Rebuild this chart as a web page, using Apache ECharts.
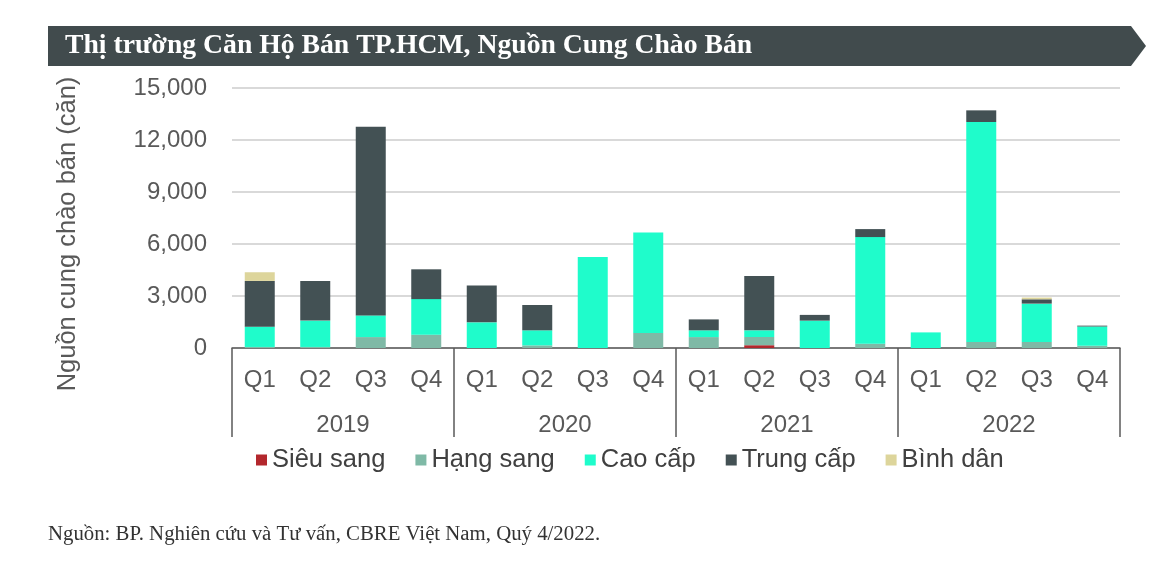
<!DOCTYPE html>
<html>
<head>
<meta charset="utf-8">
<script src="https://cdn.jsdelivr.net/npm/echarts@6/dist/echarts.min.js"></script>
<style>
html,body{margin:0;padding:0;background:#fff;}
#c{width:1170px;height:577px;}
</style>
</head>
<body>
<div id="c"></div>
<script>
const quarters = ['Q1','Q2','Q3','Q4','Q1','Q2','Q3','Q4','Q1','Q2','Q3','Q4','Q1','Q2','Q3','Q4'];
const years = ['2019','2020','2021','2022'];
const yTicks = [0, 3000, 6000, 9000, 12000, 15000];
const seriesNames = ['Siêu sang','Hạng sang','Cao cấp','Trung cấp','Bình dân'];
const sieuSang = [0,0,0,0, 0,0,0,0, 0,160,0,0, 0,0,0,0];
const hangSang = [60,60,630,770, 0,150,0,870, 630,475,0,250, 0,350,350,130];
const caoCap   = [1170,1520,1250,2050, 1480,870,5250,5790, 390,385,1580,6150, 900,12690,2210,1110];
const trungCap = [2640,2290,10890,1720, 2120,1460,0,0, 630,3135,330,460, 0,670,250,50];
const binhDan  = [500,0,0,0, 0,0,0,0, 0,0,0,0, 0,0,100,0];
const titleText = 'Thị trường Căn Hộ Bán TP.HCM, Nguồn Cung Chào Bán';
const yName = 'Nguồn cung chào bán (căn)';
const sourceText = 'Nguồn: BP. Nghiên cứu và Tư vấn, CBRE Việt Nam, Quý 4/2022.';

const colors = ['#b3272d','#7fb9a6','#1ffccb','#435154','#ddd59b'];
const values = [sieuSang, hangSang, caoCap, trungCap, binhDan];
const font = 'Liberation Sans, Arial, sans-serif';
const labelColor = '#595959';

const chart = echarts.init(document.getElementById('c'), null, {renderer:'canvas'});
chart.setOption({
  animation:false,
  backgroundColor:'#fff',
  grid:{left:232, right:50, top:88, bottom:229, containLabel:false},
  legend:{
    data:seriesNames,
    left:251, top:442,
    icon:'rect', itemWidth:11, itemHeight:11, itemGap:30,
    textStyle:{fontFamily:font, fontSize:25.5, color:'#404040', padding:[0,0,0,0]}
  },
  xAxis:[
    {
      type:'category', data:quarters, position:'bottom',
      axisLine:{show:true, lineStyle:{color:'#595959', width:1.5}},
      axisTick:{show:false},
      axisLabel:{interval:0, margin:20, fontFamily:font, fontSize:24, color:labelColor}
    },
    {
      type:'category', data:years, position:'bottom',
      axisLine:{show:false},
      axisTick:{show:true, interval:0, length:89, lineStyle:{color:'#595959', width:1.5}},
      axisLabel:{interval:0, margin:65, fontFamily:font, fontSize:24, color:labelColor}
    }
  ],
  yAxis:{
    type:'value', min:yTicks[0], max:yTicks[yTicks.length-1], interval:3000,
    axisLine:{show:false}, axisTick:{show:false},
    splitLine:{lineStyle:{color:'#d9d9d9', width:2}},
    axisLabel:{margin:25, fontFamily:font, fontSize:24, color:labelColor,
      formatter:v=>v.toLocaleString('en-US')}
  },
  graphic:[
    {type:'polygon', shape:{points:[[48,26],[1131,26],[1146,46],[1131,66],[48,66]]},
     style:{fill:'#414b4d'}},
    {type:'text', x:65, y:46, style:{text:titleText, fill:'#fff',
      font:'bold 27.7px "Liberation Serif", "Times New Roman", serif', textVerticalAlign:'middle'}},
    {type:'text', x:68, y:234, rotation:Math.PI/2, style:{text:yName, fill:labelColor,
      font:'25.5px "Liberation Sans", Arial, sans-serif', textAlign:'center', textVerticalAlign:'middle'}},
    {type:'text', x:48, y:535, style:{text:sourceText, fill:'#333',
      font:'20.8px "Liberation Serif", "Times New Roman", serif', textVerticalAlign:'middle'}}
  ],
  series: seriesNames.map((n,i)=>({
    name:n, type:'bar', stack:'total', barWidth:30, xAxisIndex:0,
    itemStyle:{color:colors[i]},
    data:values[i]
  }))
});
</script>
</body>
</html>
